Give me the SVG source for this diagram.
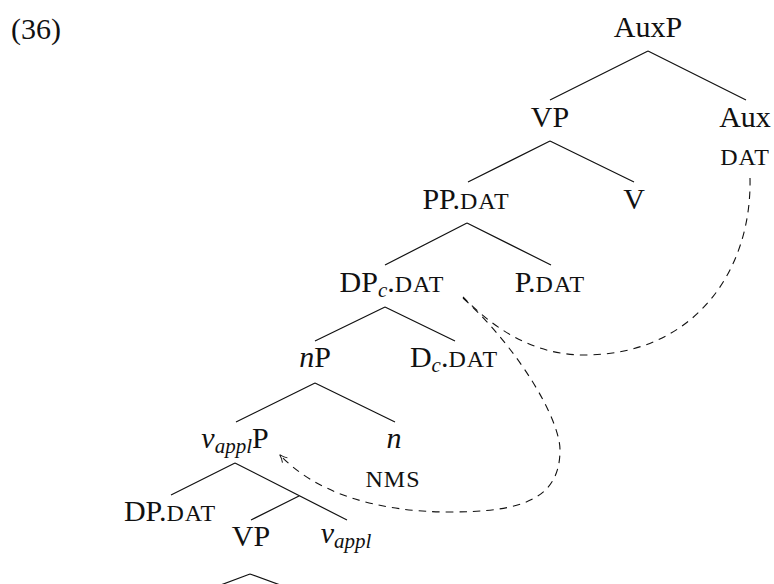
<svg xmlns="http://www.w3.org/2000/svg" width="774" height="584" viewBox="0 0 774 584">
  <style>
    text { font-family: "Liberation Serif", "Times New Roman", serif; font-size: 30px; fill: #111; }
    .lbl { text-anchor: middle; }
    .sc { font-size: 24px; letter-spacing: 1px; }
    .it { font-style: italic; }
    .sub { font-style: italic; font-size: 21px; }
    .edge { stroke: #111; stroke-width: 1.2; fill: none; }
    .dash { stroke: #111; stroke-width: 1.1; fill: none; stroke-dasharray: 7.5 6; }
  </style>
  <defs>
    <marker id="tip" viewBox="0 0 10 10" refX="9" refY="5" markerWidth="9" markerHeight="9" markerUnits="userSpaceOnUse" orient="auto">
      <path d="M1,1.2 Q5,4 9.5,5 Q5,6 1,8.8" fill="none" stroke="#111" stroke-width="1.1" stroke-dasharray="none"/>
    </marker>
  </defs>

  <text x="11" y="39">(36)</text>

  <g id="connectors">
    <path class="edge" d="M648,51 L550,100 M648,51 L746,100"/>
    <path class="edge" d="M550,141 L468,182 M550,141 L634,182"/>
    <path class="edge" d="M467,223 L385,265 M467,223 L551,265"/>
    <path class="edge" d="M385,307 L315,341 M385,307 L455,341"/>
    <path class="edge" d="M315,383 L236,422 M315,383 L395,422"/>
    <path class="edge" d="M235,463 L171,495 M235,463 L347,520 M299,496 L251,520"/>
    <path class="edge" d="M250,574 L218,586 M250,574 L283,586"/>
    <path class="dash" d="M750,178 C752,270 695,355 584,355 C540,355 500,335 463,297"/>
    <path class="dash" d="M463,298 C520,350 560,420 560,450 C560,500 520,512 450,512 C375,512 315,492 280,455" marker-end="url(#tip)"/>
  </g>

  <g id="AuxP"><text class="lbl" x="648" y="37">AuxP</text></g>
  <g id="VP1"><text class="lbl" x="550" y="127">VP</text></g>
  <g id="Aux">
    <text class="lbl" x="745" y="127">Aux</text>
    <text class="lbl sc" x="745" y="165">DAT</text>
  </g>
  <g id="PPDAT"><text class="lbl" x="466" y="209">PP.<tspan class="sc">DAT</tspan></text></g>
  <g id="V"><text class="lbl" x="634" y="209">V</text></g>
  <g id="DPcDAT"><text class="lbl" x="392" y="292">DP<tspan class="sub" dy="5">c</tspan><tspan dy="-5">.</tspan><tspan class="sc">DAT</tspan></text></g>
  <g id="PDAT"><text class="lbl" x="550" y="292">P.<tspan class="sc">DAT</tspan></text></g>
  <g id="nP"><text class="lbl" x="315" y="367"><tspan class="it">n</tspan>P</text></g>
  <g id="DcDAT"><text class="lbl" x="454" y="367">D<tspan class="sub" dy="5">c</tspan><tspan dy="-5">.</tspan><tspan class="sc">DAT</tspan></text></g>
  <g id="vapplP"><text class="lbl" x="235" y="448"><tspan class="it">v</tspan><tspan class="sub" dy="5">appl</tspan><tspan dy="-5">P</tspan></text></g>
  <g id="n">
    <text class="lbl it" x="394" y="448">n</text>
    <text class="lbl sc" x="393" y="487">NMS</text>
  </g>
  <g id="DPDAT"><text class="lbl" x="170" y="521">DP.<tspan class="sc">DAT</tspan></text></g>
  <g id="VP2"><text class="lbl" x="251" y="546">VP</text></g>
  <g id="vappl"><text class="lbl" x="346" y="543"><tspan class="it">v</tspan><tspan class="sub" dy="5">appl</tspan></text></g>
</svg>
